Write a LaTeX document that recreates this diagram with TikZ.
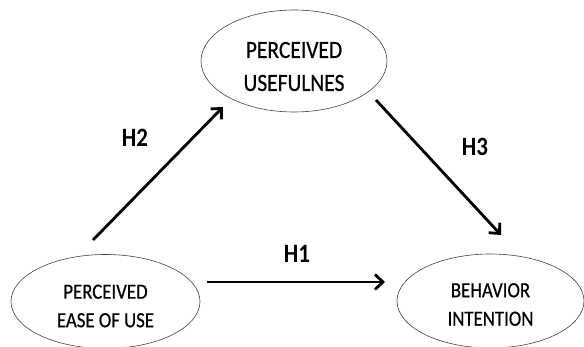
\documentclass[tikz,border=0pt]{standalone}
\usepackage{fontspec}
\usepackage{graphicx}
\setmainfont{Carlito}
\newfontfamily\darkfont[FakeBold=0.6]{Carlito}
\usetikzlibrary{shapes.geometric,arrows.meta,calc}
\newcommand{\vs}[1]{\scalebox{1}[1.15]{#1}}
\tikzset{
  ell/.style={ellipse, draw=black!75, line width=0.6pt, inner sep=0pt},
  lbltop/.style={align=center, inner sep=0pt, font=\darkfont\fontsize{21.5}{33}\selectfont},
  lblbot/.style={align=center, inner sep=0pt, font=\darkfont\fontsize{18.8}{28.5}\selectfont},
  hyp/.style={inner sep=0pt, font=\fontsize{23}{24}\selectfont\bfseries},
  conn/.style={line width=2.8pt, -{Straight Barb[length=8pt,width=15pt]}}
}
\begin{document}
\begin{tikzpicture}[x=1pt,y=1pt]
\useasboundingbox (0,0) rectangle (584,-347);
% ellipses
\node[ell, minimum width=186pt, minimum height=102pt] (pu) at (294,-61) {};
\node[ell, minimum width=189pt, minimum height=94pt] (peou) at (105.5,-301.5) {};
\node[ell, minimum width=187pt, minimum height=94pt] (bi) at (490.5,-301) {};
% texts
\node[lbltop] (putxt) at ($(pu.center)+(0,-5.5)$) {\vs{PERCEIVED}\\\vs{USEFULNES}};
\node[lblbot] (peoutxt) at ($(peou.center)+(0,-4.5)$) {\vs{PERCEIVED}\\\vs{EASE OF USE}};
\node[lblbot] (bitxt) at ($(bi.center)+(0,-3.5)$) {\vs{BEHAVIOR}\\\vs{INTENTION}};
% hypothesis labels
\node[hyp] (h1) at (297,-254) {\vs{H1}};
\node[hyp] (h2) at (135,-138) {\vs{H2}};
\node[hyp] (h3) at (475,-147) {\vs{H3}};
% connector ends
\coordinate (h2s) at (93,-240);
\coordinate (h2e) at (223,-107);
\coordinate (h3s) at (376,-100);
\coordinate (h3e) at (501,-235);
\coordinate (h1s) at (207,-282);
\coordinate (h1e) at (385,-282);
\draw[conn] (h2s) -- (h2e);
\draw[conn] (h3s) -- (h3e);
\draw[conn] (h1s) -- (h1e);
\end{tikzpicture}
\end{document}
